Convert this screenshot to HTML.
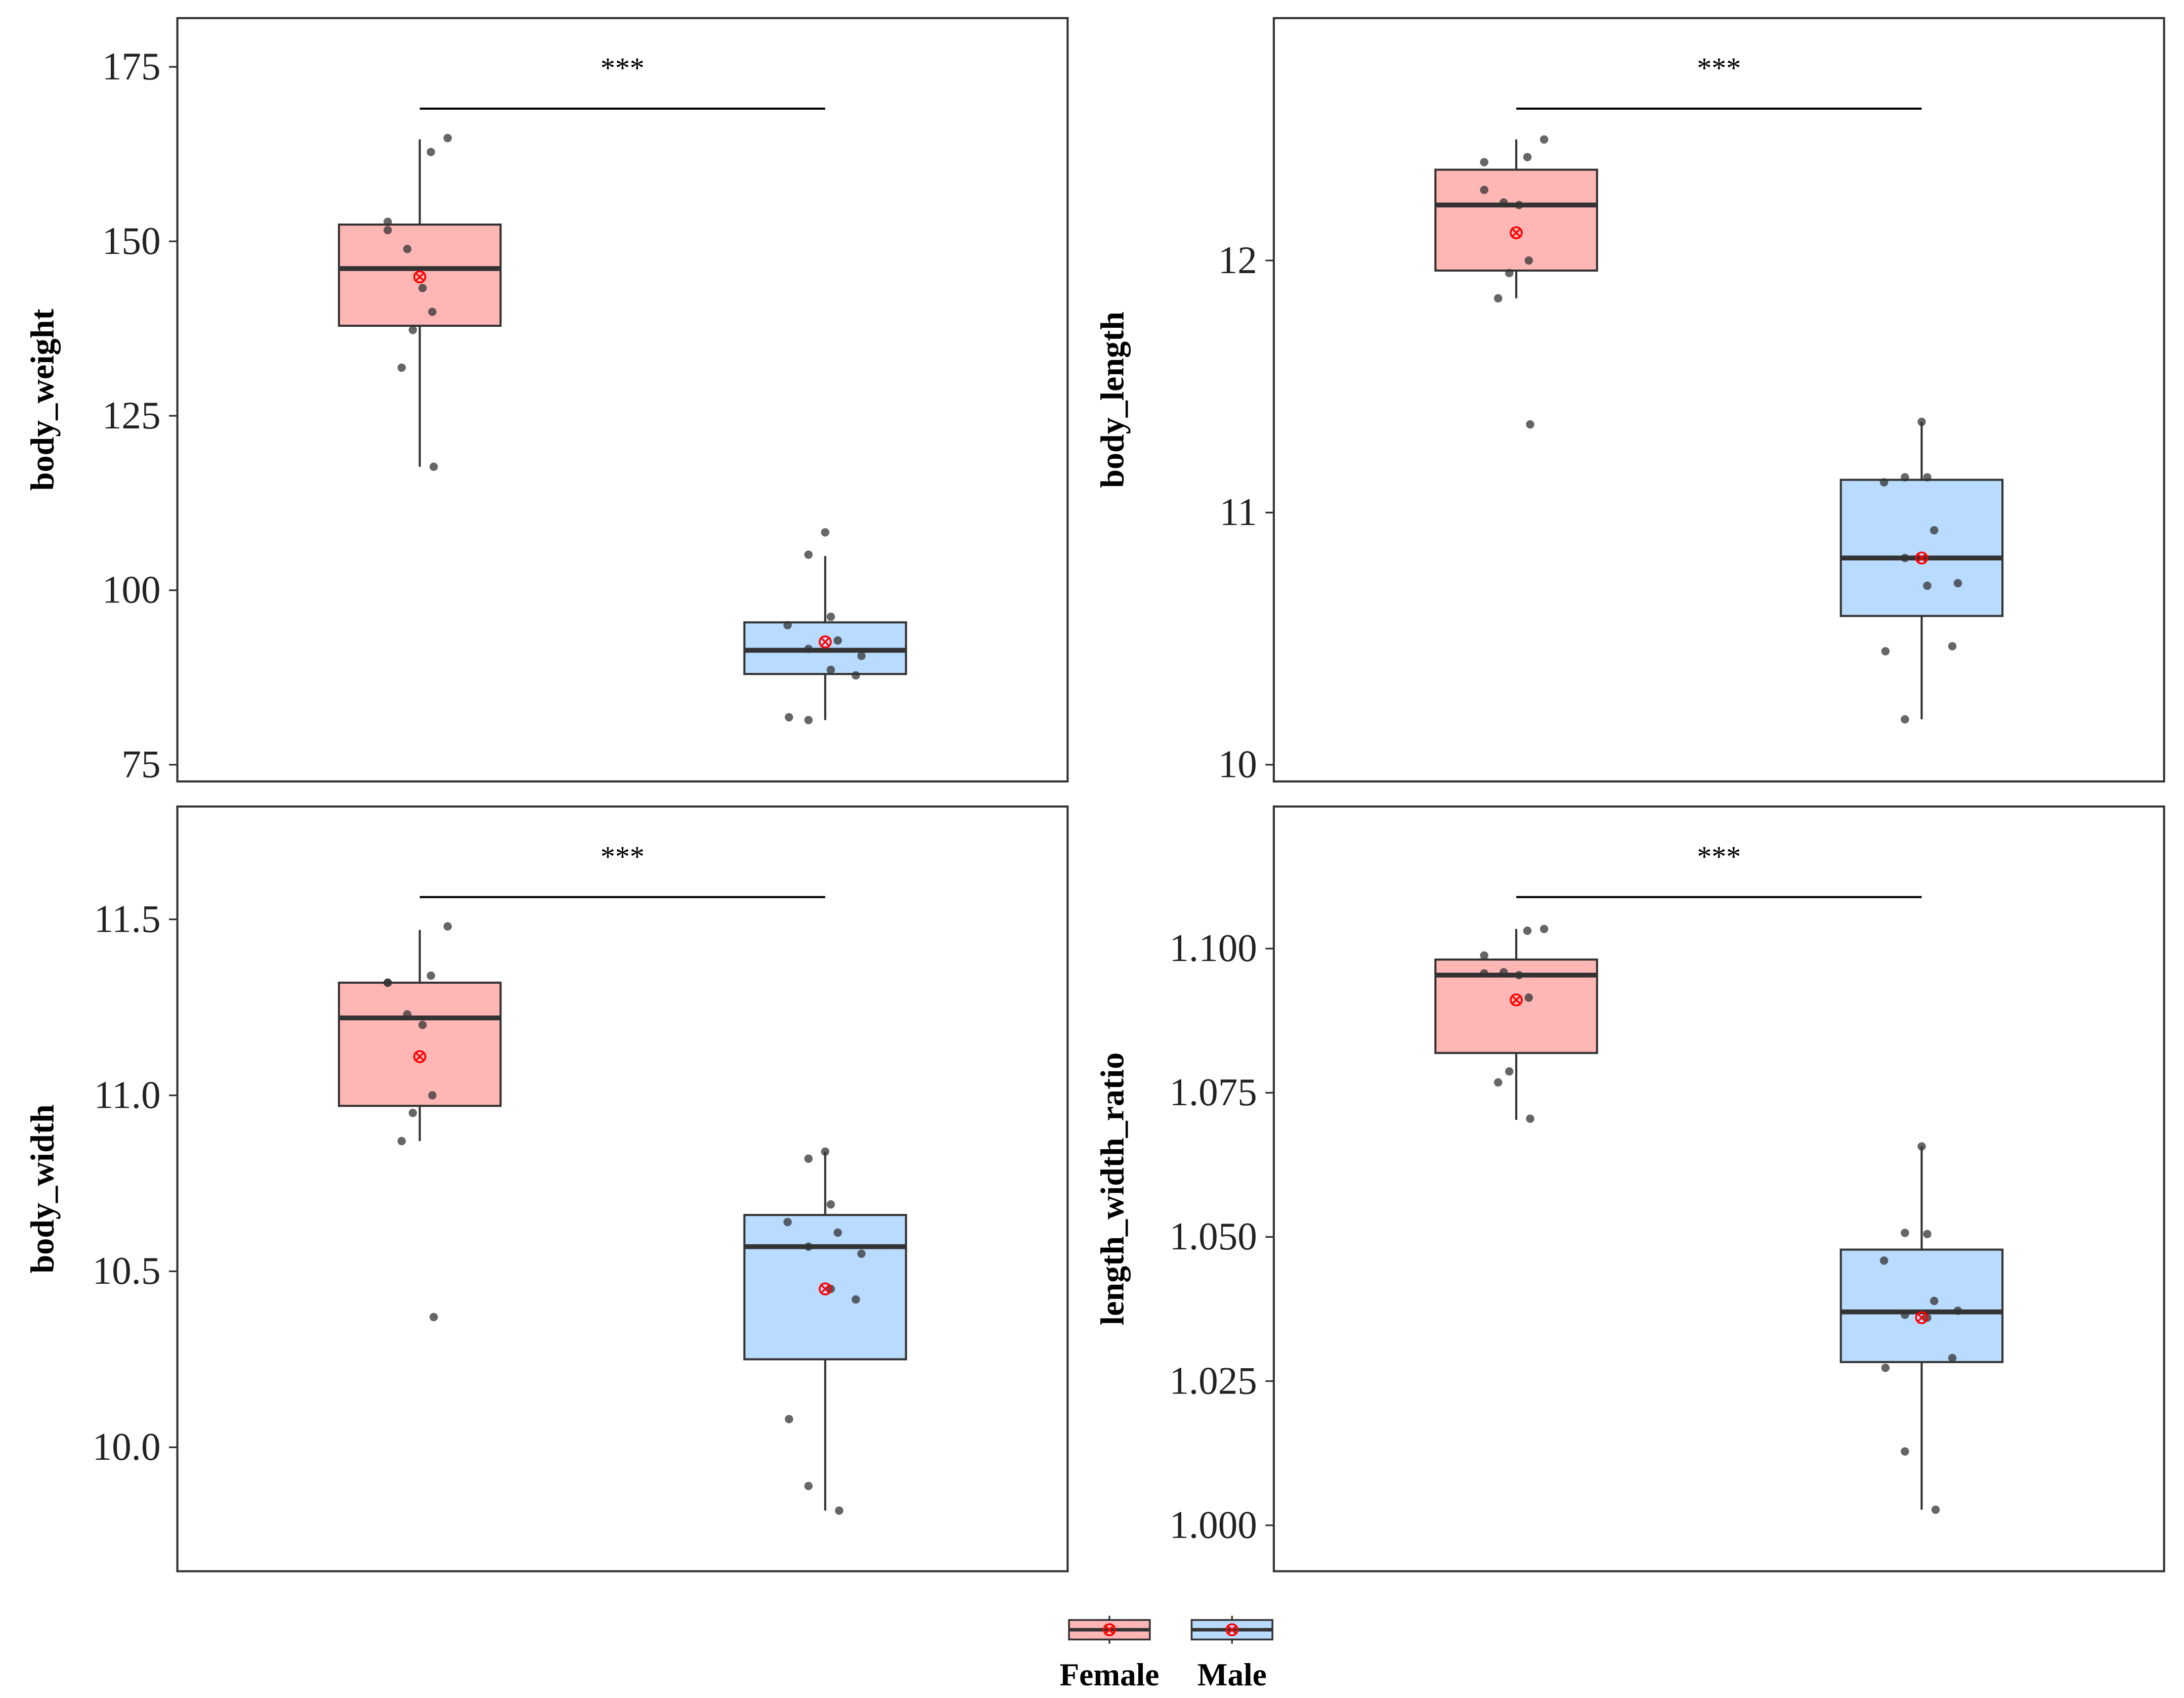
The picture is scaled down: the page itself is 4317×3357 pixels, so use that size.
<!DOCTYPE html>
<html><head><meta charset="utf-8"><style>
html,body{margin:0;padding:0;background:#fff;}
svg{display:block;font-family:"Liberation Serif",serif;}
</style></head><body>
<svg id="chart" width="4317" height="3357" viewBox="0 0 1567 1219" xmlns="http://www.w3.org/2000/svg">
<rect width="1567" height="1219" fill="#fff"/>
</svg>
<script>
const groups = ["Female","Male"];
const panelNames = ["body_weight","body_length","body_width","length_width_ratio"];
const ticks_bw = [75,100,125,150,175];
const ticks_bl = [10,11,12];
const ticks_bwd = [10.0,10.5,11.0,11.5];
const ticks_lwr = [1.000,1.025,1.050,1.075,1.100];
const tickLabels_bw = ["75","100","125","150","175"];
const tickLabels_bl = ["10","11","12"];
const tickLabels_bwd = ["10.0","10.5","11.0","11.5"];
const tickLabels_lwr = ["1.000","1.025","1.050","1.075","1.100"];
// box stats: [whiskerLow, q1, median, q3, whiskerHigh, mean]
const stats_bw_f = [117.7,137.9,146.1,152.4,164.6,144.9];
const stats_bw_m = [81.4,88.0,91.4,95.4,104.9,92.6];
const stats_bl_f = [11.85,11.96,12.22,12.36,12.48,12.11];
const stats_bl_m = [10.18,10.59,10.82,11.13,11.36,10.82];
const stats_bwd_f = [10.87,10.97,11.22,11.32,11.47,11.11];
const stats_bwd_m = [9.82,10.25,10.57,10.66,10.84,10.45];
const stats_lwr_f = [1.0703,1.0819,1.0954,1.0981,1.1034,1.0911];
const stats_lwr_m = [1.0027,1.0283,1.0370,1.0478,1.0657,1.0360];
const pts_bw_f = [164.8,162.8,152.8,151.6,148.9,143.3,139.9,137.3,131.9,117.7];
const pts_bw_m = [108.3,105.1,96.2,95.0,92.8,91.6,90.6,88.6,87.8,81.8,81.4];
const pts_bl_f = [12.48,12.41,12.39,12.28,12.23,12.22,12.0,11.95,11.85,11.35];
const pts_bl_m = [11.36,11.14,11.14,11.12,10.93,10.82,10.72,10.71,10.47,10.45,10.18];
const pts_bwd_f = [11.48,11.34,11.32,11.32,11.23,11.20,11.0,10.95,10.87,10.37];
const pts_bwd_m = [10.84,10.82,10.69,10.64,10.61,10.57,10.55,10.45,10.42,10.08,9.89,9.82];
const pts_lwr_f = [1.1034,1.1031,1.0988,1.0957,1.0959,1.0954,1.0915,1.0787,1.0768,1.0705];
const pts_lwr_m = [1.0657,1.0507,1.0505,1.0459,1.0389,1.0365,1.0372,1.0360,1.0290,1.0273,1.0128,1.0027];

const jitF = [20,8,-23,-23,-9,2,9,-5,-13,10];
const jitM = [0,-12,4,-27,9,-12,26,4,22,-26,-12,10];

const NS="http://www.w3.org/2000/svg";
const svg=document.getElementById('chart');
function mk(tag,attrs,parent){const e=document.createElementNS(NS,tag);for(const k in attrs)e.setAttribute(k,attrs[k]);(parent||svg).appendChild(e);return e;}

const panels=[
 {x0:127,x1:766,y0:13,y1:561,dom:[75,175],rng:[549,48],ticks:ticks_bw,labels:tickLabels_bw,sf:stats_bw_f,sm:stats_bw_m,pf:pts_bw_f,pm:pts_bw_m,title:panelNames[0],tx:30},
 {x0:914,x1:1553,y0:13,y1:561,dom:[10,12],rng:[549,187],ticks:ticks_bl,labels:tickLabels_bl,sf:stats_bl_f,sm:stats_bl_m,pf:pts_bl_f,pm:pts_bl_m,title:panelNames[1],tx:798},
 {x0:127,x1:766,y0:579,y1:1128,dom:[10,11.5],rng:[1039,660],ticks:ticks_bwd,labels:tickLabels_bwd,sf:stats_bwd_f,sm:stats_bwd_m,pf:pts_bwd_f,pm:pts_bwd_m,title:panelNames[2],tx:30},
 {x0:914,x1:1553,y0:579,y1:1128,dom:[1.0,1.1],rng:[1095,681],ticks:ticks_lwr,labels:tickLabels_lwr,sf:stats_lwr_f,sm:stats_lwr_m,pf:pts_lwr_f,pm:pts_lwr_m,title:panelNames[3],tx:798}
];
const fillF="#FFB7B6", fillM="#B9DBFF";

panels.forEach((p,i)=>{
 const g=mk('g',{});
 
 
 const y=v=>p.rng[0]+(v-p.dom[0])/(p.dom[1]-p.dom[0])*(p.rng[1]-p.rng[0]);
 const off=p.x0-127;
 const xF=301+off, xM=592+off;
 p.ticks.forEach((t,j)=>{
  mk('line',{x1:p.x0-6,x2:p.x0,y1:y(t),y2:y(t),stroke:'#333','stroke-width':1.2},g);
  const tx=mk('text',{x:p.x0-12,y:y(t)+9,'text-anchor':'end','font-size':28,fill:'#222'},g);
  tx.textContent=p.labels[j];
  
  
 });
 const tt=mk('text',{x:0,y:0,'text-anchor':'middle','font-size':24,'font-weight':'bold',fill:'#000',transform:`translate(${p.tx+8},${(p.y0+p.y1)/2}) rotate(-90)`},g);
 tt.textContent=p.title;
 
 
 [[xF,p.sf,p.pf,fillF,jitF,'female'],[xM,p.sm,p.pm,fillM,jitM,'male']].forEach(([cx,s,pts,fill,jit,nm])=>{
  mk('line',{x1:cx,x2:cx,y1:y(s[0]),y2:y(s[4]),stroke:'#333','stroke-width':1.5},g);
  const b=mk('rect',{x:cx-58,y:y(s[3]),width:116,height:y(s[1])-y(s[3]),fill:fill,stroke:'#333','stroke-width':1.5},g);
  
  
  mk('line',{x1:cx-58,x2:cx+58,y1:y(s[2]),y2:y(s[2]),stroke:'#333','stroke-width':3.5},g);
  pts.forEach((v,k)=>{
   const c=mk('circle',{cx:cx+(jit[k]||0),cy:y(v),r:3,fill:'#333','fill-opacity':0.75},g);
   
   
  });
  const my=y(s[5]);
  mk('circle',{cx:cx,cy:my,r:4,fill:'none',stroke:'#f00','stroke-width':1.3},g);
  mk('path',{d:`M${cx-2.8} ${my-2.8}L${cx+2.8} ${my+2.8}M${cx+2.8} ${my-2.8}L${cx-2.8} ${my+2.8}`,stroke:'#f00','stroke-width':1.2},g);
 });
 const sy=p.y0+65;
 const sl=mk('line',{x1:xF,x2:xM,y1:sy,y2:sy,stroke:'#000','stroke-width':1.5},g);
 
 
 const st=mk('text',{x:(xF+xM)/2,y:sy-22,'text-anchor':'middle','font-size':21,fill:'#000'},g);
 st.textContent='***';
 
 
 const fr=mk('rect',{x:p.x0,y:p.y0,width:p.x1-p.x0,height:p.y1-p.y0,fill:'none',stroke:'#333','stroke-width':1.5},g);
 
 
});
[[796,fillF,groups[0]],[884,fillM,groups[1]]].forEach(([cx,fill,lab])=>{
 const g=mk('g',{});
 
 
 mk('line',{x1:cx,x2:cx,y1:1160,y2:1180,stroke:'#333','stroke-width':1.2},g);
 mk('rect',{x:cx-29,y:1163,width:58,height:14,fill:fill,stroke:'#333','stroke-width':1.3},g);
 mk('line',{x1:cx-29,x2:cx+29,y1:1170,y2:1170,stroke:'#333','stroke-width':2.5},g);
 mk('circle',{cx:cx,cy:1170,r:4,fill:'none',stroke:'#f00','stroke-width':1.3},g);
 mk('path',{d:`M${cx-2.8} 1167.2L${cx+2.8} 1172.8M${cx+2.8} 1167.2L${cx-2.8} 1172.8`,stroke:'#f00','stroke-width':1.2},g);
 const t=mk('text',{x:cx,y:1210,'text-anchor':'middle','font-size':23,'font-weight':'bold',fill:'#000'},g);
 t.textContent=lab;
});
</script>
</body></html>
